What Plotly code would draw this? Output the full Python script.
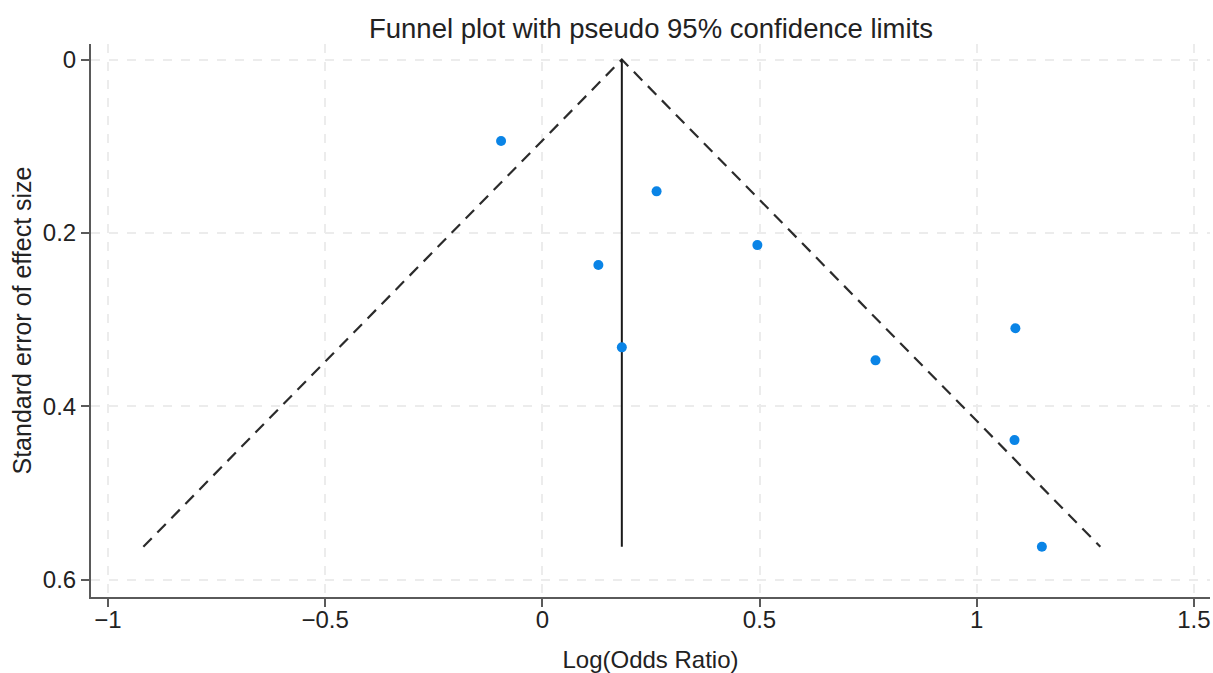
import plotly.graph_objects as go

# Study data: log odds ratios and their standard errors
log_or = [-0.095, 0.263, 0.129, 0.183, 0.495, 0.767, 1.089, 1.087, 1.150]
se = [0.094, 0.152, 0.237, 0.332, 0.214, 0.347, 0.310, 0.439, 0.562]

# Pooled estimate and funnel limits
pooled = 0.183
se_max = 0.562
z = 1.96

x_ticks = [-1, -0.5, 0, 0.5, 1, 1.5]
x_tick_labels = ["\u22121", "\u22120.5", "0", "0.5", "1", "1.5"]
y_ticks = [0, 0.2, 0.4, 0.6]
y_tick_labels = ["0", "0.2", "0.4", "0.6"]

fig = go.Figure()

# Funnel (pseudo 95% CI limits)
fig.add_trace(go.Scatter(
    x=[pooled - z * se_max, pooled, pooled + z * se_max],
    y=[se_max, 0, se_max],
    mode="lines",
    line=dict(color="#2b2b2b", width=2.2, dash="12px,8px"),
    hoverinfo="skip", showlegend=False,
))
# Vertical pooled line
fig.add_trace(go.Scatter(
    x=[pooled, pooled], y=[0, se_max],
    mode="lines",
    line=dict(color="#1a1a1a", width=2),
    hoverinfo="skip", showlegend=False,
))
# Studies
fig.add_trace(go.Scatter(
    x=log_or, y=se, mode="markers",
    marker=dict(color="#0a84e6", size=10),
    showlegend=False,
))

font = "Liberation Sans, Arial, sans-serif"
W, H = 1213, 673
fig.update_layout(
    width=W, height=H,
    margin=dict(l=91, r=3, t=44, b=76),
    paper_bgcolor="white", plot_bgcolor="white",
    font=dict(family=font, color="#222222", size=24),
    title=dict(text="Funnel plot with pseudo 95% confidence limits",
               x=651 / W, xanchor="center", y=1 - 28 / H, yanchor="middle",
               font=dict(size=27.5, family=font, color="#222222")),
)
fig.update_xaxes(
    range=[-1.039, 1.537], tickvals=x_ticks, ticktext=x_tick_labels,
    showline=True, linecolor="#5a5a5a", linewidth=2,
    ticks="outside", ticklen=8, tickwidth=1.5, tickcolor="#5a5a5a",
    showgrid=True, gridcolor="#ececec", gridwidth=1.5, griddash="dash",
    zeroline=False, ticklabelstandoff=-8, ticklabeloverflow="allow",
    title=dict(text="Log(Odds Ratio)", font=dict(size=24), standoff=19),
    tickfont=dict(size=24),
)
fig.update_yaxes(
    range=[0.62, -0.018], tickvals=y_ticks, ticktext=y_tick_labels,
    showline=True, linecolor="#5a5a5a", linewidth=2,
    ticks="outside", ticklen=8, tickwidth=1.5, tickcolor="#5a5a5a",
    showgrid=True, gridcolor="#ececec", gridwidth=1.5, griddash="dash",
    zeroline=False,
    title=dict(text="Standard error of effect size", font=dict(size=25), standoff=4),
    tickfont=dict(size=24),
)

fig.write_html("out.html", config={"displayModeBar": False},
               post_script="document.body.style.margin='0';")
